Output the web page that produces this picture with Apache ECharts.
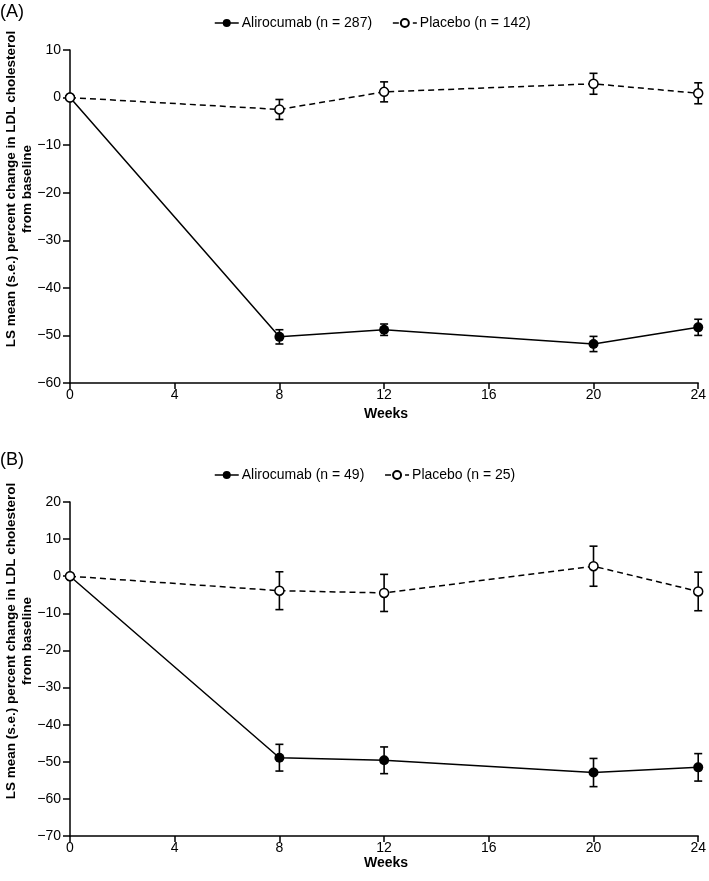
<!DOCTYPE html>
<html>
<head>
<meta charset="utf-8">
<script src="https://cdn.jsdelivr.net/npm/echarts@6/dist/echarts.min.js"></script>
<style>
html,body{margin:0;padding:0;background:#fff;}
#chart{width:709px;height:881px;}
</style>
</head>
<body>
<div id="chart"></div>
<script>
// ---- Data ----
var weeks = [0, 8, 12, 20, 24];
var xTicks = [0, 4, 8, 12, 16, 20, 24];

// Panel A
var nameAliroA = 'Alirocumab (n = 287)';
var namePlaceboA = 'Placebo (n = 142)';
var aliroA = [0, -50.3, -48.8, -51.8, -48.3];
var aliroA_se = [0, 1.5, 1.2, 1.6, 1.7];
var placeboA = [0, -2.5, 1.2, 2.9, 0.9];
var placeboA_se = [0, 2.1, 2.1, 2.2, 2.2];

// Panel B
var nameAliroB = 'Alirocumab (n = 49)';
var namePlaceboB = 'Placebo (n = 25)';
var aliroB = [0, -48.9, -49.6, -52.9, -51.5];
var aliroB_se = [0, 3.6, 3.6, 3.8, 3.7];
var placeboB = [0, -3.9, -4.5, 2.7, -4.1];
var placeboB_se = [0, 5.1, 5.0, 5.4, 5.2];

var yNameText = 'LS mean (s.e.) percent change in LDL cholesterol\nfrom baseline';
var FONT = '"Liberation Sans", Arial, sans-serif';

// ---- Helpers ----
function pts(vals) { return weeks.map(function (w, i) { return [w, vals[i]]; }); }
function errPts(vals, se) { return weeks.map(function (w, i) { return [w, vals[i], se[i]]; }); }

function errRender(params, api) {
  var x = api.value(0), y = api.value(1), se = api.value(2);
  if (!se) return null;
  var top = api.coord([x, y + se]);
  var bot = api.coord([x, y - se]);
  var hw = 4;
  var st = { stroke: '#000', lineWidth: 1.6 };
  return {
    type: 'group',
    children: [
      { type: 'line', shape: { x1: top[0], y1: top[1], x2: bot[0], y2: bot[1] }, style: st },
      { type: 'line', shape: { x1: top[0] - hw, y1: top[1], x2: top[0] + hw, y2: top[1] }, style: st },
      { type: 'line', shape: { x1: bot[0] - hw, y1: bot[1], x2: bot[0] + hw, y2: bot[1] }, style: st }
    ]
  };
}

function minusFmt(v) { return String(v).replace('-', '\u2212'); }

function xAxis(gi) {
  return {
    type: 'value', gridIndex: gi, min: 0, max: 24, interval: 4,
    axisLine: { onZero: false, lineStyle: { color: '#000', width: 1.5 } },
    axisTick: { length: 6, lineStyle: { color: '#000', width: 1.5 } },
    axisLabel: { color: '#000', fontSize: 14, fontFamily: FONT, margin: 5 },
    splitLine: { show: false }
  };
}
function yAxis(gi, mn, mx) {
  return {
    type: 'value', gridIndex: gi, min: mn, max: mx, interval: 10,
    axisLine: { show: true, onZero: false, lineStyle: { color: '#000', width: 1.5 } },
    axisTick: { show: true, length: 7, lineStyle: { color: '#000', width: 1.5 } },
    axisLabel: { color: '#000', fontSize: 14, fontFamily: FONT, margin: 9, formatter: minusFmt },
    splitLine: { show: false }
  };
}

function aliroSeries(name, vals, gi) {
  return {
    type: 'line', name: name, xAxisIndex: gi, yAxisIndex: gi, data: pts(vals),
    symbol: 'circle', symbolSize: 10, z: 3,
    lineStyle: { color: '#000', width: 1.5, type: 'solid' },
    itemStyle: { color: '#000' }
  };
}
function placeboSeries(name, vals, gi) {
  return {
    type: 'line', name: name, xAxisIndex: gi, yAxisIndex: gi, data: pts(vals),
    symbol: 'circle', symbolSize: 9, z: 4,
    lineStyle: { color: '#000', width: 1.5, type: [6, 4] },
    itemStyle: { color: '#fff', borderColor: '#000', borderWidth: 1.5 }
  };
}
function errSeries(vals, se, gi) {
  return {
    type: 'custom', xAxisIndex: gi, yAxisIndex: gi, data: errPts(vals, se),
    renderItem: errRender, z: 2, silent: true,
    encode: { x: 0, y: 1 }
  };
}

var legendBase = {
  orient: 'horizontal', left: 214, itemWidth: 24, itemHeight: 10, itemGap: 20,
  lineStyle: { type: 'inherit', width: 1.5 },
  textStyle: { color: '#000', fontSize: 14, fontFamily: FONT, padding: [0, 0, 0, -2] },
  padding: 0
};

var chart = echarts.init(document.getElementById('chart'), null, { renderer: 'canvas' });
chart.setOption({
  animation: false,
  backgroundColor: '#fff',
  textStyle: { fontFamily: FONT },
  grid: [
    { left: 70, top: 50, width: 635, height: 333, containLabel: false },
    { left: 70, top: 502, width: 635, height: 334, containLabel: false }
  ],
  xAxis: [xAxis(0), xAxis(1)],
  yAxis: [yAxis(0, -60, 10), yAxis(1, -70, 20)],
  legend: [
    Object.assign({}, legendBase, { top: 16, data: [nameAliroA, namePlaceboA] }),
    Object.assign({}, legendBase, { top: 468, data: [nameAliroB, namePlaceboB] })
  ],
  graphic: [
    { type: 'text', left: 0, top: 3, style: { text: '(A)', fontSize: 18, fontFamily: FONT, fill: '#000' } },
    { type: 'text', left: 0, top: 451, style: { text: '(B)', fontSize: 18, fontFamily: FONT, fill: '#000' } },
    { type: 'text', x: 19, y: 189, rotation: Math.PI / 2,
      style: { text: yNameText, fontSize: 13.5, fontWeight: 'bold', fontFamily: FONT, fill: '#000',
               align: 'center', verticalAlign: 'middle', lineHeight: 16 } },
    { type: 'text', x: 19, y: 641, rotation: Math.PI / 2,
      style: { text: yNameText, fontSize: 13.5, fontWeight: 'bold', fontFamily: FONT, fill: '#000',
               align: 'center', verticalAlign: 'middle', lineHeight: 16 } },
    { type: 'text', x: 386, y: 414, style: { text: 'Weeks', fontSize: 14, fontWeight: 'bold', fontFamily: FONT, fill: '#000', align: 'center', verticalAlign: 'middle' } },
    { type: 'text', x: 386, y: 863, style: { text: 'Weeks', fontSize: 14, fontWeight: 'bold', fontFamily: FONT, fill: '#000', align: 'center', verticalAlign: 'middle' } }
  ],
  series: [
    errSeries(aliroA, aliroA_se, 0),
    errSeries(placeboA, placeboA_se, 0),
    aliroSeries(nameAliroA, aliroA, 0),
    placeboSeries(namePlaceboA, placeboA, 0),
    errSeries(aliroB, aliroB_se, 1),
    errSeries(placeboB, placeboB_se, 1),
    aliroSeries(nameAliroB, aliroB, 1),
    placeboSeries(namePlaceboB, placeboB, 1)
  ]
});
</script>
</body>
</html>
